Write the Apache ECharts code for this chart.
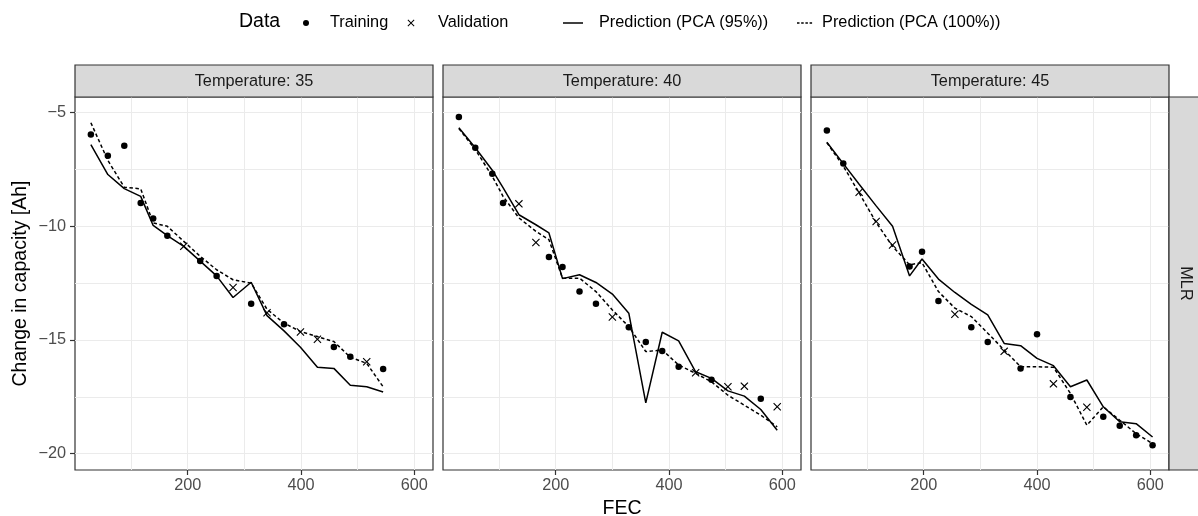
<!DOCTYPE html>
<html><head><meta charset="utf-8">
<script src="https://cdn.jsdelivr.net/npm/echarts@6/dist/echarts.min.js"></script>
<style>html,body{margin:0;padding:0;background:#fff}#c{width:1198px;height:516px}</style>
</head><body><div id="c"></div>
<script>
// ---------- data ----------
const panelTitles = ['Temperature: 35', 'Temperature: 40', 'Temperature: 45'];
const rowStrip = 'MLR';
const xGridValues = [100, 200, 300, 400, 500, 600];
const xTickValues = [200, 400, 600];
const yGridValues = [-20, -17.5, -15, -12.5, -10, -7.5, -5];
const yTickValues = [-20, -15, -10, -5];

// Temperature 35
const t35TrainX = [29, 59, 88, 117, 139, 164, 222, 251, 312, 370, 458, 487, 545];
const t35TrainY = [-5.96, -6.9, -6.46, -8.97, -9.66, -10.41, -11.53, -12.18, -13.41, -14.31, -15.31, -15.74, -16.28];
const t35ValX = [193, 280, 340, 399, 429, 516];
const t35ValY = [-10.88, -12.69, -13.8, -14.65, -14.97, -15.96];
const t35LineX = [29, 59, 88, 117, 139, 164, 193, 222, 251, 280, 312, 340, 370, 399, 429, 458, 487, 516, 545];
const t35Pca95 = [-6.4, -7.72, -8.34, -8.68, -9.96, -10.41, -10.88, -11.53, -12.18, -13.13, -12.46, -13.93, -14.6, -15.32, -16.2, -16.25, -16.99, -17.06, -17.29];
const t35Pca100 = [-5.44, -7.1, -8.28, -8.35, -9.85, -10.0, -10.66, -11.32, -11.91, -12.35, -12.5, -13.65, -14.26, -14.63, -14.85, -15.07, -15.76, -16.03, -17.06];

// Temperature 40
const t40TrainX = [29, 58, 88, 107, 188, 212, 242, 271, 329, 359, 388, 417, 475, 562];
const t40TrainY = [-5.19, -6.54, -7.69, -8.97, -11.35, -11.79, -12.87, -13.41, -14.44, -15.09, -15.49, -16.18, -16.75, -17.59];
const t40ValX = [135, 165, 300, 447, 504, 533, 591];
const t40ValY = [-9.01, -10.71, -13.99, -16.44, -17.06, -17.03, -17.94];
const t40LineX = [29, 58, 88, 107, 135, 165, 188, 212, 242, 271, 300, 329, 359, 388, 417, 447, 475, 504, 533, 562, 591];
const t40Pca95 = [-5.66, -6.54, -7.53, -8.3, -9.49, -9.93, -10.29, -12.3, -12.13, -12.47, -12.98, -13.82, -17.77, -14.66, -15.04, -16.4, -16.69, -17.24, -17.47, -18.06, -18.97];
const t40Pca100 = [-5.7, -6.62, -7.8, -8.68, -9.63, -10.22, -10.59, -12.28, -12.28, -12.87, -13.68, -14.41, -15.51, -15.44, -16.1, -16.47, -16.84, -17.43, -17.87, -18.31, -18.82];

// Temperature 45
const t45TrainX = [29, 58, 175, 197, 226, 284, 313, 371, 400, 459, 517, 546, 575, 604];
const t45TrainY = [-5.78, -7.24, -11.77, -11.12, -13.28, -14.44, -15.09, -16.25, -14.75, -17.51, -18.38, -18.77, -19.19, -19.63];
const t45ValX = [86, 116, 145, 255, 342, 429, 488];
const t45ValY = [-8.5, -9.79, -10.82, -13.87, -15.5, -16.93, -17.96];
const t45LineX = [29, 58, 86, 116, 145, 175, 197, 226, 255, 284, 313, 342, 371, 400, 429, 459, 488, 517, 546, 575, 604];
const t45Pca95 = [-6.3, -7.24, -8.15, -9.1, -10.0, -12.18, -11.44, -12.32, -12.91, -13.43, -13.9, -15.15, -15.25, -15.81, -16.13, -17.06, -16.76, -17.94, -18.6, -18.68, -19.27];
const t45Pca100 = [-6.32, -7.35, -8.53, -9.83, -10.88, -11.69, -11.6, -12.87, -13.6, -13.97, -14.7, -15.44, -16.18, -16.18, -16.2, -17.35, -18.75, -17.94, -18.53, -19.12, -19.56];

// ---------- build ----------
const panels = [
  {trX: t35TrainX, trY: t35TrainY, vaX: t35ValX, vaY: t35ValY, lx: t35LineX, p95: t35Pca95, p100: t35Pca100},
  {trX: t40TrainX, trY: t40TrainY, vaX: t40ValX, vaY: t40ValY, lx: t40LineX, p95: t40Pca95, p100: t40Pca100},
  {trX: t45TrainX, trY: t45TrainY, vaX: t45ValX, vaY: t45ValY, lx: t45LineX, p95: t45Pca95, p100: t45Pca100}
];
const zip = (a, b) => a.map((v, i) => [v, b[i]]);
const FONT = '"Liberation Sans", Arial, Helvetica, sans-serif';
const CROSS = 'path://M0,1L1,0L5,4L9,0L10,1L6,5L10,9L9,10L5,6L1,10L0,9L4,5Z';
const XMIN = 1, XMAX = 633, YMIN = -20.72, YMAX = -4.31;
const gridLeft = [75, 443, 811], gridTop = 97, gridW = 358, gridH = 373;
const SMALL = 16.3, TITLE = 19.5;

const grid = gridLeft.map(l => ({left: l, top: gridTop, width: gridW, height: gridH, show: true,
  backgroundColor: '#fff', borderColor: '#333333', borderWidth: 1.2, containLabel: false, outerBoundsMode: 'none'}));

const xAxis = [], yAxis = [], series = [];
gridLeft.forEach((l, i) => {
  xAxis.push({type: 'value', gridIndex: i, min: XMIN, max: XMAX, position: 'bottom',
    axisLine: {show: false}, axisLabel: {show: false},
    axisTick: {show: false, customValues: xGridValues},
    splitLine: {show: true, lineStyle: {color: '#EBEBEB', width: 1}}});
  yAxis.push({type: 'value', gridIndex: i, min: YMIN, max: YMAX, position: 'left',
    axisLine: {show: false}, axisLabel: {show: false},
    axisTick: {show: false, customValues: yGridValues},
    splitLine: {show: true, lineStyle: {color: '#EBEBEB', width: 1}}});
});
gridLeft.forEach((l, i) => {
  const ax = {type: 'value', gridIndex: i, min: XMIN, max: XMAX, position: 'bottom', offset: 0,
    axisLine: {show: false}, splitLine: {show: false},
    axisTick: {show: true, customValues: xTickValues, length: 5, lineStyle: {color: '#333333', width: 1.2}},
    axisLabel: {show: true, customValues: xTickValues, color: '#4D4D4D', fontSize: SMALL, fontFamily: FONT, margin: 8}};
  if (i === 1) {
    ax.name = 'FEC'; ax.nameLocation = 'middle'; ax.nameGap = 27;
    ax.nameTextStyle = {fontSize: TITLE, color: '#000', fontFamily: FONT};
  }
  xAxis.push(ax);
});
yAxis.push({type: 'value', gridIndex: 0, min: YMIN, max: YMAX, position: 'left', offset: 0,
  axisLine: {show: false}, splitLine: {show: false},
  axisTick: {show: true, customValues: yTickValues, length: 5, lineStyle: {color: '#333333', width: 1.2}},
  axisLabel: {show: true, customValues: yTickValues, color: '#4D4D4D', fontSize: SMALL, fontFamily: FONT, margin: 9,
    formatter: v => String(v).replace('-', '\u2212')},
  name: 'Change in capacity [Ah]', nameLocation: 'middle', nameGap: 44,
  nameTextStyle: {fontSize: TITLE, color: '#000', fontFamily: FONT}});

panels.forEach((p, i) => {
  series.push({name: 'Prediction (PCA (95%))', type: 'line', xAxisIndex: i, yAxisIndex: i,
    data: zip(p.lx, p.p95), symbol: 'none', color: '#000', itemStyle: {color: '#000'},
    lineStyle: {color: '#000', width: 1.5}, z: 3, silent: true});
  series.push({name: 'Prediction (PCA (100%))', type: 'line', xAxisIndex: i, yAxisIndex: i,
    data: zip(p.lx, p.p100), symbol: 'none', color: '#000', itemStyle: {color: '#000'},
    lineStyle: {color: '#000', width: 1.5, type: [3.5, 2.5]}, z: 3, silent: true});
  series.push({name: 'Training', type: 'scatter', xAxisIndex: i, yAxisIndex: i,
    data: zip(p.trX, p.trY), symbol: 'circle', symbolSize: 6.5, itemStyle: {color: '#000', opacity: 1}, z: 4, silent: true});
  series.push({name: 'Validation', type: 'scatter', xAxisIndex: i, yAxisIndex: i,
    data: zip(p.vaX, p.vaY), symbol: CROSS, symbolSize: 8, itemStyle: {color: '#000', opacity: 1}, z: 4, silent: true});
});

const legendText = {fontSize: SMALL, color: '#000', fontFamily: FONT};
const legend = [
  {data: [{name: 'Training', icon: 'circle'}], left: 303, top: 15, itemWidth: 38, itemHeight: 6},
  {data: [{name: 'Validation', icon: CROSS}], left: 407.5, top: 15, itemWidth: 44, itemHeight: 7},
  {data: [{name: 'Prediction (PCA (95%))', icon: 'path://M0,0h20v1.5h-20z'}], left: 563, top: 15, itemWidth: 42, itemHeight: 1.5},
  {data: [{name: 'Prediction (PCA (100%))', icon: 'path://M0,0h2.5v1.5h-2.5z M4.2,0h2.5v1.5h-2.5z M8.4,0h2.5v1.5h-2.5z M12.6,0h2.5v1.5h-2.5z'}], left: 797, top: 15, itemWidth: 25, itemHeight: 1.5}
].map(l => Object.assign(l, {padding: 0, selectedMode: false, textStyle: legendText,
  itemStyle: {color: '#000', borderWidth: 0}}));

const graphic = [];
gridLeft.forEach((l, i) => {
  graphic.push({type: 'rect', shape: {x: l, y: 65, width: gridW, height: 32},
    style: {fill: '#D9D9D9', stroke: '#333333', lineWidth: 1.2}, z: 10});
  graphic.push({type: 'text', x: l + gridW / 2, y: 81.5, z: 11,
    style: {text: panelTitles[i], textAlign: 'center', textVerticalAlign: 'middle', fontSize: SMALL, fill: '#1A1A1A', fontFamily: FONT}});
});
graphic.push({type: 'rect', shape: {x: 1169, y: gridTop, width: 32, height: gridH},
  style: {fill: '#D9D9D9', stroke: '#333333', lineWidth: 1.2}, z: 10});
graphic.push({type: 'text', x: 1185, y: gridTop + gridH / 2, rotation: -Math.PI / 2, z: 11,
  style: {text: rowStrip, textAlign: 'center', textVerticalAlign: 'middle', fontSize: SMALL, fill: '#1A1A1A', fontFamily: FONT}});
graphic.push({type: 'text', x: 239, y: 22, z: 11,
  style: {text: 'Data', textAlign: 'left', textVerticalAlign: 'middle', fontSize: TITLE, fill: '#000', fontFamily: FONT}});

const chart = echarts.init(document.getElementById('c'), null, {renderer: 'canvas'});
chart.setOption({animation: false, backgroundColor: '#fff', textStyle: {fontFamily: FONT},
  grid, xAxis, yAxis, series, legend, graphic});
</script></body></html>
